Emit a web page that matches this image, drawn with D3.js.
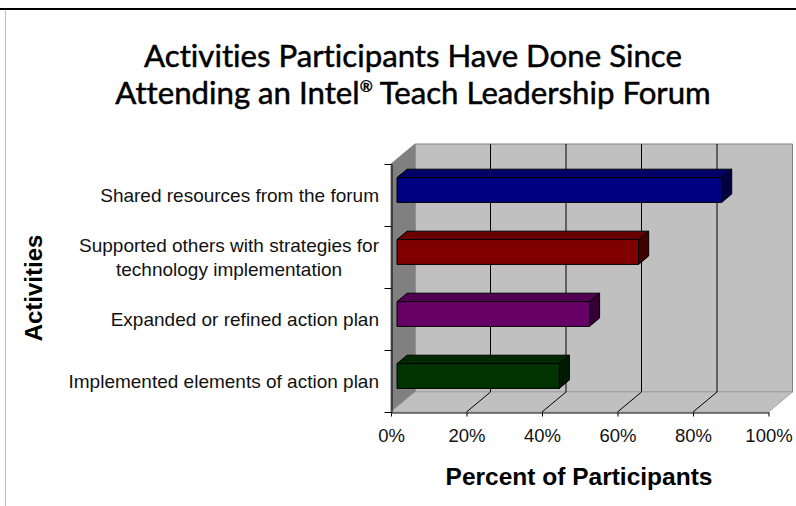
<!DOCTYPE html>
<html>
<head>
<meta charset="utf-8">
<script src="https://cdn.jsdelivr.net/npm/d3@7"></script>
<style>
  body { margin: 0; background: #fff; }
  svg { display: block; }
  .title text { font-variant-ligatures: none; }
</style>
</head>
<body>
<svg id="chart" width="796" height="506"></svg>
<script>
// ---- DATA
const titleLines = ['Activities Participants Have Done Since', 'Attending an Intel', '\u00ae', ' Teach Leadership Forum'];
const categories = [
  'Shared resources from the forum',
  'Supported others with strategies for\ntechnology implementation',
  'Expanded or refined action plan',
  'Implemented elements of action plan'
];
const values = [0.86, 0.64, 0.51, 0.43];
const xTickValues = [0, 0.2, 0.4, 0.6, 0.8, 1];
const xTitle = 'Percent of Participants';
const yTitle = 'Activities';

// ---- STYLE
const barColors = ['#000080', '#800000', '#660066', '#003300'];
const W = 796, H = 506;
const DEPTH_X = 24, DEPTH_Y = -20;
const BAR_Z0 = 0.25, BAR_Z1 = 0.67;
const ARIAL = '"Liberation Sans", Arial, sans-serif';
const TITLE_FONT = 'Lato, "Noto Sans", sans-serif';

let svg = d3.select('#chart');

// frame
svg.append('rect').attr('width', W).attr('height', H).attr('fill', '#fff');
svg.append('line')
  .attr('x1', 0).attr('x2', W).attr('y1', 9).attr('y2', 9)
  .attr('stroke', '#000').attr('stroke-width', 2);
svg.append('line')
  .attr('x1', 5.5).attr('x2', 5.5).attr('y1', 10).attr('y2', H)
  .attr('stroke', '#c0c0c0');

// ---- SCALES
let x = d3.scaleLinear().domain([0, 1]).range([391, 768.5]);
let y = d3.scaleBand().domain(categories).range([164, 412])
  .paddingInner(0.6).paddingOuter(0.3);
let yTick = d3.scaleLinear().domain([0, categories.length]).range([164, 412]);

// project a point of the front plane back into the depth z (0..1)
function P(px, py, z) { return [px + z * DEPTH_X, py + z * DEPTH_Y]; }
function poly(pts) { return 'M' + pts.map(p => p.join(',')).join('L') + 'Z'; }

const x0 = x(0), x1 = x(1), yTop = yTick(0), yBot = yTick(categories.length);

// ---- WALLS
let walls = svg.append('g').attr('class', 'walls');
walls.append('path')
  .attr('d', poly([P(x0, yTop, 1), P(x1, yTop, 1), P(x1, yBot, 1), P(x0, yBot, 1)]))
  .attr('fill', '#c0c0c0').attr('stroke', '#808080');
walls.append('path')
  .attr('d', poly([P(x0, yTop, 0), P(x0, yTop, 1), P(x0, yBot, 1), P(x0, yBot, 0)]))
  .attr('fill', '#808080').attr('stroke', '#808080');
walls.append('path')
  .attr('d', poly([P(x0, yBot, 0), P(x0, yBot, 1), P(x1, yBot, 1), P(x1, yBot, 0)]))
  .attr('fill', '#c0c0c0').attr('stroke', '#a8a8a8');

walls.selectAll('path.grid')
  .data(xTickValues.slice(1, -1))
  .enter().append('path')
  .attr('class', 'grid')
  .attr('d', d => 'M' + [P(x(d), yBot, 0), P(x(d), yBot, 1), P(x(d), yTop, 1)].map(p => p.join(',')).join('L'))
  .attr('fill', 'none').attr('stroke', '#000');

// ---- BARS
let bw = y.bandwidth();
let bars = svg.append('g').attr('class', 'bars')
  .selectAll('g')
  .data(categories.map((c, i) => ({ c: c, v: values[i], color: barColors[i] })))
  .enter().append('g');

bars.each(function(d) {
  let g = d3.select(this);
  let xl = x(0), xr = x(d.v), yt = y(d.c), yb = y(d.c) + bw;
  let base = d3.color(d.color);
  g.append('path')
    .attr('d', poly([P(xl, yt, BAR_Z0), P(xl, yt, BAR_Z1), P(xr, yt, BAR_Z1), P(xr, yt, BAR_Z0)]))
    .attr('fill', base.darker(0.6)).attr('stroke', '#000');
  g.append('path')
    .attr('d', poly([P(xr, yt, BAR_Z0), P(xr, yt, BAR_Z1), P(xr, yb, BAR_Z1), P(xr, yb, BAR_Z0)]))
    .attr('fill', base.darker(1.9)).attr('stroke', '#000');
  g.append('path')
    .attr('d', poly([P(xl, yt, BAR_Z0), P(xr, yt, BAR_Z0), P(xr, yb, BAR_Z0), P(xl, yb, BAR_Z0)]))
    .attr('fill', base).attr('stroke', '#000');
});

// ---- AXES
let yAxis = svg.append('g')
  .attr('transform', 'translate(' + (x0 + 0.5) + ',0)')
  .call(d3.axisLeft(yTick).tickValues(d3.range(categories.length + 1))
    .tickFormat('').tickSize(7).tickSizeOuter(0));
yAxis.selectAll('path, line').attr('stroke', '#000');

let xAxis = svg.append('g')
  .attr('transform', 'translate(0,' + (yBot + 0.5) + ')')
  .call(d3.axisBottom(x).tickValues(xTickValues)
    .tickFormat(d3.format('.0%')).tickSize(4).tickPadding(12).tickSizeOuter(0));
xAxis.selectAll('path, line').attr('stroke', '#000');
xAxis.selectAll('text')
  .attr('font-family', ARIAL).attr('font-size', 18.5).attr('fill', '#111');

// category labels
let labels = svg.append('g').attr('class', 'labels')
  .selectAll('text')
  .data(categories)
  .enter().append('text')
  .attr('font-family', ARIAL).attr('font-size', 19).attr('fill', '#111')
  .attr('text-anchor', 'middle');

labels.each(function(c) {
  let t = d3.select(this);
  let lines = c.split('\n');
  let cy = y(c) + bw / 2;
  let spans = t.selectAll('tspan').data(lines).enter().append('tspan')
    .text(l => l)
    .attr('y', (l, i) => cy + (i - (lines.length - 1) / 2) * 24)
    .attr('dy', '0.35em');
  let maxW = d3.max(spans.nodes(), n => n.getComputedTextLength());
  spans.attr('x', 379 - maxW / 2);
});

// ---- TITLES
let title = svg.append('g').attr('class', 'title')
  .attr('font-family', TITLE_FONT).attr('fill', '#000')
  .attr('stroke', '#000').attr('stroke-width', 0.5)
  .attr('text-anchor', 'middle');
let t1 = title.append('text').attr('x', 413).attr('y', 67).attr('font-size', 28)
  .text(titleLines[0]);
let fit = 28 * 538 / t1.node().getComputedTextLength();
t1.attr('font-size', fit);
let t2 = title.append('text').attr('x', 413).attr('y', 104).attr('font-size', fit);
t2.append('tspan').text(titleLines[1]);
t2.append('tspan').text(titleLines[2]).attr('font-size', fit * 0.5).attr('dy', -fit * 0.4);
t2.append('tspan').text(titleLines[3]).attr('dy', fit * 0.4);

svg.append('text')
  .attr('x', 579).attr('y', 485)
  .attr('text-anchor', 'middle')
  .attr('font-family', ARIAL).attr('font-weight', 'bold').attr('font-size', 24.5)
  .text(xTitle);

svg.append('text')
  .attr('transform', 'translate(42,288) rotate(-90)')
  .attr('text-anchor', 'middle')
  .attr('font-family', ARIAL).attr('font-weight', 'bold').attr('font-size', 24)
  .text(yTitle);
</script>
</body>
</html>
